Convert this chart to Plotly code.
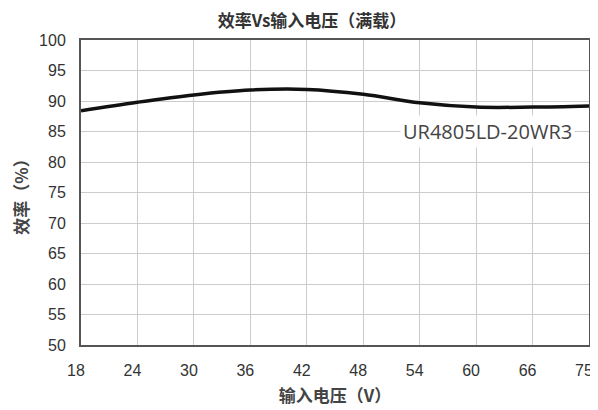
import plotly.graph_objects as go

voltage = ["18", "24", "30", "36", "42", "48", "54", "60", "66", "75"]
efficiency = [88.4, 89.8, 91.0, 91.8, 91.9, 91.1, 89.7, 89.0, 89.0, 89.2]
y_ticks = [50, 55, 60, 65, 70, 75, 80, 85, 90, 95, 100]
title_text = "效率Vs输入电压（满载）"
x_title = "输入电压（V）"
y_title = "效率（%）"
model_label = "UR4805LD-20WR3"

# the page body has an 8px margin, so the figure is sized to fit inside it
W, H = 590, 402

fig = go.Figure()
fig.add_trace(go.Scatter(
    x=voltage, y=efficiency, mode="lines",
    line=dict(color="#111111", width=3.5, shape="spline", smoothing=1.0),
    showlegend=False, hoverinfo="skip",
))

tick_font = dict(family="Liberation Sans, Arial, sans-serif", size=16, color="#333333")
cjk_bold = dict(family="Noto Sans CJK SC, sans-serif", size=17, color="#444444", weight="bold")

fig.update_layout(
    width=W, height=H,
    margin=dict(l=73, r=9, t=32, b=65),
    paper_bgcolor="white", plot_bgcolor="white",
    xaxis=dict(
        type="category", categoryorder="array", categoryarray=voltage,
        range=[0, 9], showgrid=True, gridcolor="#cccccc", gridwidth=1,
        showline=True, linecolor="#555555", linewidth=2, mirror=True,
        tickfont=tick_font, ticks="", ticklabelstandoff=10, ticklabelshift=-5,
        automargin=False,
        title=dict(text=x_title, font=cjk_bold, standoff=12),
        zeroline=False, fixedrange=True,
    ),
    yaxis=dict(
        range=[50, 100], tickvals=y_ticks, showgrid=True, gridcolor="#cccccc", gridwidth=1,
        showline=True, linecolor="#555555", linewidth=2, mirror=True,
        tickfont=tick_font, ticks="", ticklabelstandoff=10, automargin=False,
        title=dict(text=y_title, font=cjk_bold, standoff=9),
        zeroline=False, fixedrange=True,
    ),
    title=dict(text=title_text, x=304 / W, xanchor="center", y=1 - 13 / H, yanchor="middle",
               font=dict(family="Noto Sans CJK SC, sans-serif", size=17, color="#333333", weight="bold")),
)

fig.add_annotation(
    x=(487 - 81) / 508, xref="paper", y=85, yref="y", xanchor="center", yanchor="middle",
    text=model_label, showarrow=False, bgcolor="white",
    font=dict(family="Open Sans, sans-serif", size=20, color="#444444"),
    borderpad=2,
)

fig.write_html("out.html")
